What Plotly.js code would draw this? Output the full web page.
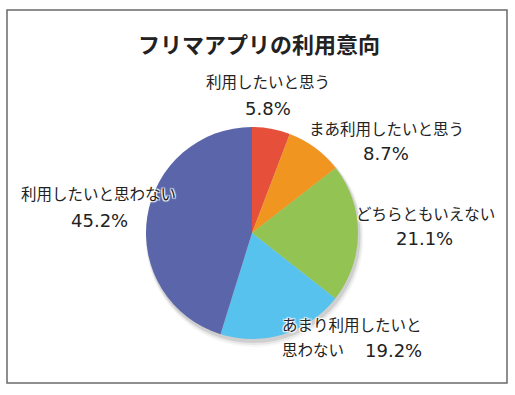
<!DOCTYPE html>
<html>
<head>
<meta charset="utf-8">
<script src="https://cdn.plot.ly/plotly-3.0.1.min.js"></script>
<style>html,body{margin:0;padding:0;background:#fff;}#chart{width:515px;height:395px;}</style>
</head>
<body>
<div id="chart"></div>
<script>
const categories = ["利用したいと思う", "まあ利用したいと思う", "どちらともいえない", "あまり利用したいと思わない", "利用したいと思わない"];
const values = [5.8, 8.7, 21.1, 19.2, 45.2];
const sliceColors = ["#E6503B", "#F09520", "#92C353", "#58C2EE", "#5A65AA"];
const titleText = "フリマアプリの利用意向";

const W = 515, H = 395;
const px = v => v / W;
const py = v => 1 - v / H;
const CJK = '"Noto Sans CJK JP", "Noto Sans", sans-serif';
const NUM = '"DejaVu Sans", sans-serif';
const pct = v => v.toFixed(1) + "%";
const halo = "1px 1px 1px #fff, -1px -1px 1px #fff, 1px -1px 1px #fff, -1px 1px 1px #fff";

// label lines: [text, x, y, anchor, isNumber]
const labelLines = [
  [categories[0], 268, 81, "center", false],
  [pct(values[0]), 268, 108, "center", true],
  [categories[1], 386, 128, "center", false],
  [pct(values[1]), 386, 153, "center", true],
  [categories[2], 425, 213, "center", false],
  [pct(values[2]), 424, 238, "center", true],
  ["あまり利用したいと", 280, 324, "left", false],
  ["思わない", 280, 349, "left", false],
  [pct(values[3]), 393, 350, "center", true],
  [categories[4], 98, 193, "center", false],
  [pct(values[4]), 99, 220, "center", true]
];

const annotations = labelLines.map(([t, x, y, a, num]) => ({
  text: t, x: px(x), y: py(y), xref: "paper", yref: "paper",
  xanchor: a, yanchor: "middle", showarrow: false,
  font: {family: num ? NUM : CJK, size: num ? 18 : 15.5, color: "#222", shadow: halo}
}));
annotations.push({
  text: "<b>" + titleText + "</b>", x: px(259), y: py(43), xref: "paper", yref: "paper",
  xanchor: "center", yanchor: "middle", showarrow: false,
  font: {family: CJK, size: 22, color: "#222"}
});

const pieL = 146, pieR = 358, pieT = 127, pieB = 339;
const shadowShapes = [[1, 3, 0.10], [2, 4, 0.06], [3, 5, 0.035]].map(([g, off, op]) => ({
  type: "circle", xref: "paper", yref: "paper", layer: "below",
  x0: px(pieL - g + off * 0.5), x1: px(pieR + g + off * 0.5),
  y0: py(pieB + g + off), y1: py(pieT - g + off),
  line: {width: 0}, fillcolor: "rgba(0,0,0," + op + ")"
}));

const data = [{
  type: "pie",
  labels: categories,
  values: values,
  sort: false,
  direction: "clockwise",
  rotation: 0,
  textinfo: "none",
  hoverinfo: "label+percent",
  marker: {colors: sliceColors, line: {width: 0}},
  domain: {x: [px(pieL), px(pieR)], y: [py(pieB), py(pieT)]}
}];

const layout = {
  width: W, height: H,
  margin: {l: 0, r: 0, t: 0, b: 0},
  paper_bgcolor: "#fff",
  showlegend: false,
  annotations: annotations,
  shapes: shadowShapes.concat([{
    type: "rect", xref: "paper", yref: "paper",
    x0: px(7), x1: px(507), y0: py(383), y1: py(10),
    line: {color: "#6a6a6a", width: 1.5}, fillcolor: "rgba(0,0,0,0)"
  }])
};

Plotly.newPlot("chart", data, layout, {displayModeBar: false, staticPlot: true});
</script>
</body>
</html>
